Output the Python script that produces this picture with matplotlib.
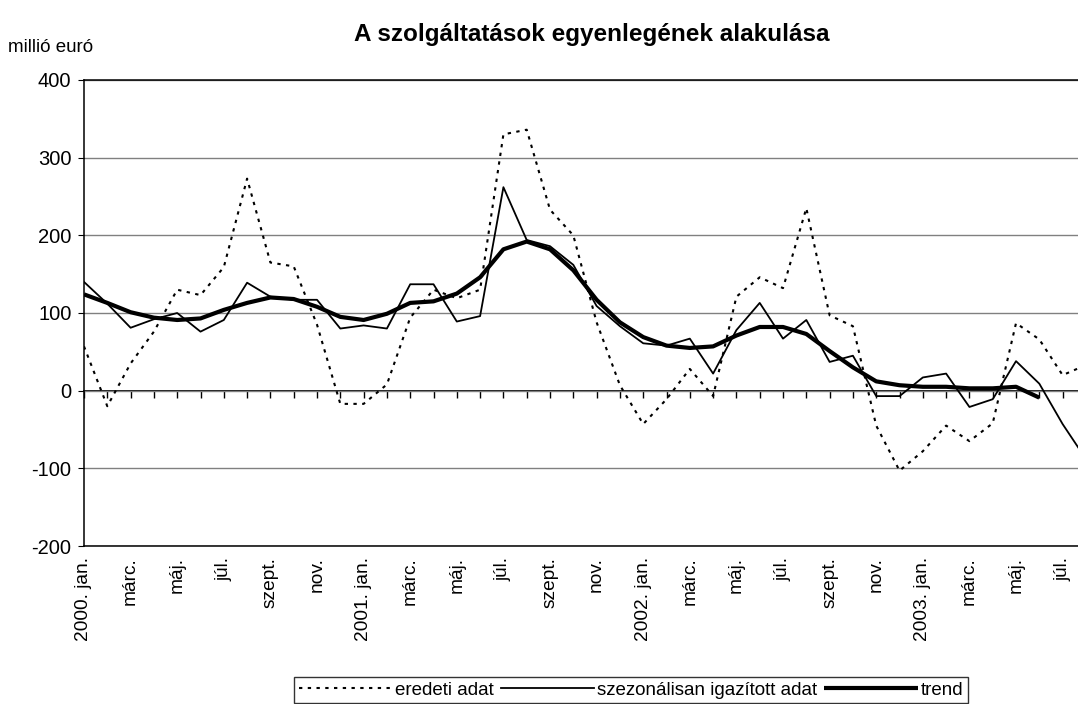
import numpy as np
import matplotlib
matplotlib.use("Agg")
import matplotlib.pyplot as plt

plt.rcParams['font.family'] = ['Liberation Sans', 'DejaVu Sans']
plt.rcParams['axes.unicode_minus'] = False

# havi adatok, 2000. jan. - 2003. aug. (millió euró)
eredeti = [57, -20, 35, 76, 130, 123, 159, 273, 165, 160, 85, -17,
           -17, 8, 94, 130, 119, 130, 330, 336, 233, 200, 88, 7,
           -43, -11, 28, -7, 121, 146, 132, 235, 97, 83, -45, -103,
           -78, -45, -65, -42, 87, 66, 20, 33]
szezonalis = [140, 112, 81, 92, 100, 76, 91, 139, 121, 117, 117, 80,
              84, 80, 137, 137, 89, 96, 262, 194, 186, 162, 109, 83,
              61, 58, 67, 22, 78, 113, 67, 91, 37, 45, -7, -7,
              17, 22, -21, -11, 38, 9, -43, -88]
trend = [124, 113, 101, 94, 91, 93, 104, 113, 120, 118, 108, 95,
         91, 99, 113, 115, 125, 146, 182, 192, 182, 155, 117, 88,
         69, 58, 55, 57, 71, 82, 82, 73, 51, 30, 12, 7,
         5, 5, 3, 3, 5, -9, np.nan, np.nan]

honapok = ['jan.', 'febr.', 'márc.', 'ápr.', 'máj.', 'jún.',
           'júl.', 'aug.', 'szept.', 'okt.', 'nov.', 'dec.']
evek = [2000, 2001, 2002, 2003]

cimkek = []
for ev in evek:
    for i, h in enumerate(honapok):
        cimkek.append(f"{ev}. {h}" if i == 0 else h)
cimkek = cimkek[:len(eredeti)]

x = np.arange(len(eredeti))

fig = plt.figure(figsize=(10.78, 7.04), dpi=100)
ax = fig.add_axes([84 / 1078, 1 - 546 / 704, 1 - 84 / 1078, (546 - 80) / 704])

ax.plot(x, eredeti, color='black', lw=1.5, ls=(0, (1.6, 2.6)), label='eredeti adat')
ax.plot(x, szezonalis, color='black', lw=1.3, label='szezonálisan igazított adat')
ax.plot(x, trend, color='black', lw=3, label='trend', solid_capstyle='butt')

ax.set_ylim(-200, 400)
ax.set_yticks(range(-200, 401, 100))
ax.set_xlim(0, 42.66)
ax.set_xticks(x[::2])
ax.set_xticklabels(cimkek[::2], rotation=90, fontsize=13.8)
ax.tick_params(axis='x', length=0, pad=8)
ax.tick_params(axis='y', length=4, direction='out', labelsize=14.5, pad=5, color='black')
ax.grid(axis='y', color='#808080', lw=1)
ax.set_axisbelow(True)
for s in ['left', 'bottom', 'top']:
    ax.spines[s].set_color('black')
    ax.spines[s].set_linewidth(1.1)
ax.spines['right'].set_visible(False)

# nulla vonal a havi osztásokkal
sec = ax.secondary_xaxis(1 / 3)
sec.set_xticks(x)
sec.tick_params(axis='x', direction='out', length=5, width=1, color='black',
                labelbottom=False, labeltop=False)
sec.spines['bottom'].set_color('black')
sec.spines['bottom'].set_linewidth(1.3)
sec.spines['top'].set_color('black')
sec.spines['top'].set_linewidth(1.3)

fig.text(592 / 1078, 1 - 35 / 704, 'A szolgáltatások egyenlegének alakulása',
         ha='center', va='center', fontsize=17.5, fontweight='bold')
fig.text(8 / 1078, 1 - 47 / 704, 'millió euró', ha='left', va='center', fontsize=13.5)

leg = fig.legend(loc='center', bbox_to_anchor=(631 / 1078, 1 - 690 / 704), ncol=3,
                 fontsize=13.5, frameon=True, fancybox=False, handlelength=5,
                 handletextpad=0.15, columnspacing=0.35, borderpad=0.25, borderaxespad=0)
leg.get_frame().set_edgecolor('black')
leg.get_frame().set_linewidth(1)

fig.savefig('out.png', dpi=100)
